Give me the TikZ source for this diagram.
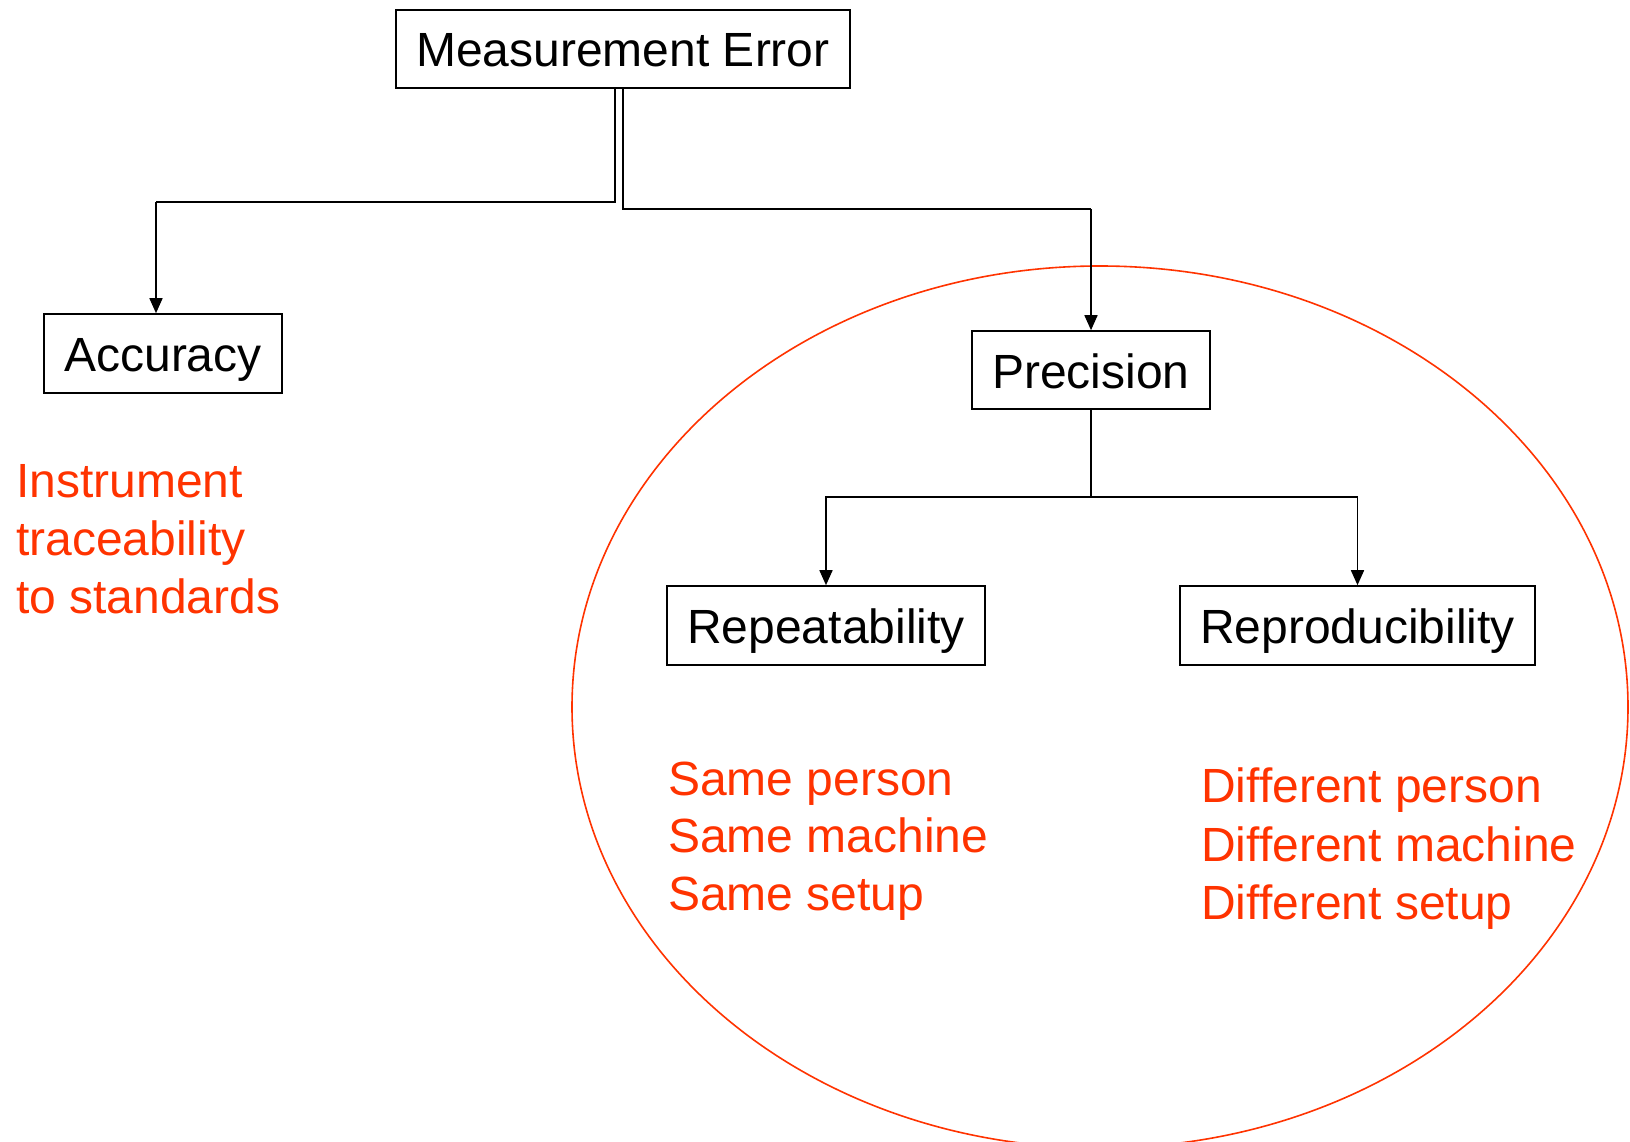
\documentclass[tikz,border=0pt]{standalone}
\usepackage{fontspec}
\setmainfont{Liberation Sans}
\usetikzlibrary{arrows.meta}
\definecolor{rd}{RGB}{255,51,0}
\begin{document}
\begin{tikzpicture}[x=1pt,y=-1pt,
  box/.style={draw=black,line width=1.6pt,inner sep=0pt,text height=40pt,text depth=4pt,font=\fontsize{48}{58}\selectfont,text=black},
  arr/.style={line width=1.6pt,-{Triangle[length=15pt,width=13pt]}},
  ln/.style={line width=1.6pt},
  redtxt/.style={text=rd,inner sep=0pt,font=\fontsize{48}{58}\selectfont,anchor=base west}]
\useasboundingbox (0,0) rectangle (1630,1142);
\fill[white] (0,0) rectangle (1630,1142);
\begin{scope}
\clip (0,0) rectangle (1630,1142);
\draw[rd,line width=1.6pt] (1100,707) ellipse [x radius=528, y radius=441];
\end{scope}
\node[box,minimum width=454pt,minimum height=78pt] (me) at (623,49) {Measurement Error};
\node[box,minimum width=238pt,minimum height=79pt] (acc) at (163,353.5) {Accuracy};
\node[box,minimum width=238pt,minimum height=78pt] (prec) at (1091,370) {Precision};
\node[box,minimum width=318pt,minimum height=79pt] (rep) at (826,625.5) {Repeatability};
\node[box,minimum width=355pt,minimum height=79pt] (repro) at (1357.5,625.5) {Reproducibility};
\coordinate (j1) at (156,202);
\draw[ln] ([xshift=-8pt]me.south) |- (j1);
\draw[arr] (j1) -- (acc.north -| j1);
\draw[ln] (me.south) |- (prec.north |- 0,209) coordinate (j2);
\draw[arr] (j2) -- (prec.north);
\draw[ln] (prec.south) -- (prec.south |- 0,497) coordinate (j3);
\draw[arr] (j3) -| (rep.north);
\draw[arr] (j3) -| (repro.north);
\node[redtxt] (i1) at (16,497) {Instrument};
\node[redtxt] (i2) at (16,555) {traceability};
\node[redtxt] (i3) at (16,613) {to standards};
\node[redtxt] (s1) at (668,795) {Same person};
\node[redtxt] (s2) at (668,852) {Same machine};
\node[redtxt] (s3) at (668,910) {Same setup};
\node[redtxt] (d1) at (1201,802) {Different person};
\node[redtxt] (d2) at (1201,861) {Different machine};
\node[redtxt] (d3) at (1201,919) {Different setup};
\end{tikzpicture}
\end{document}
